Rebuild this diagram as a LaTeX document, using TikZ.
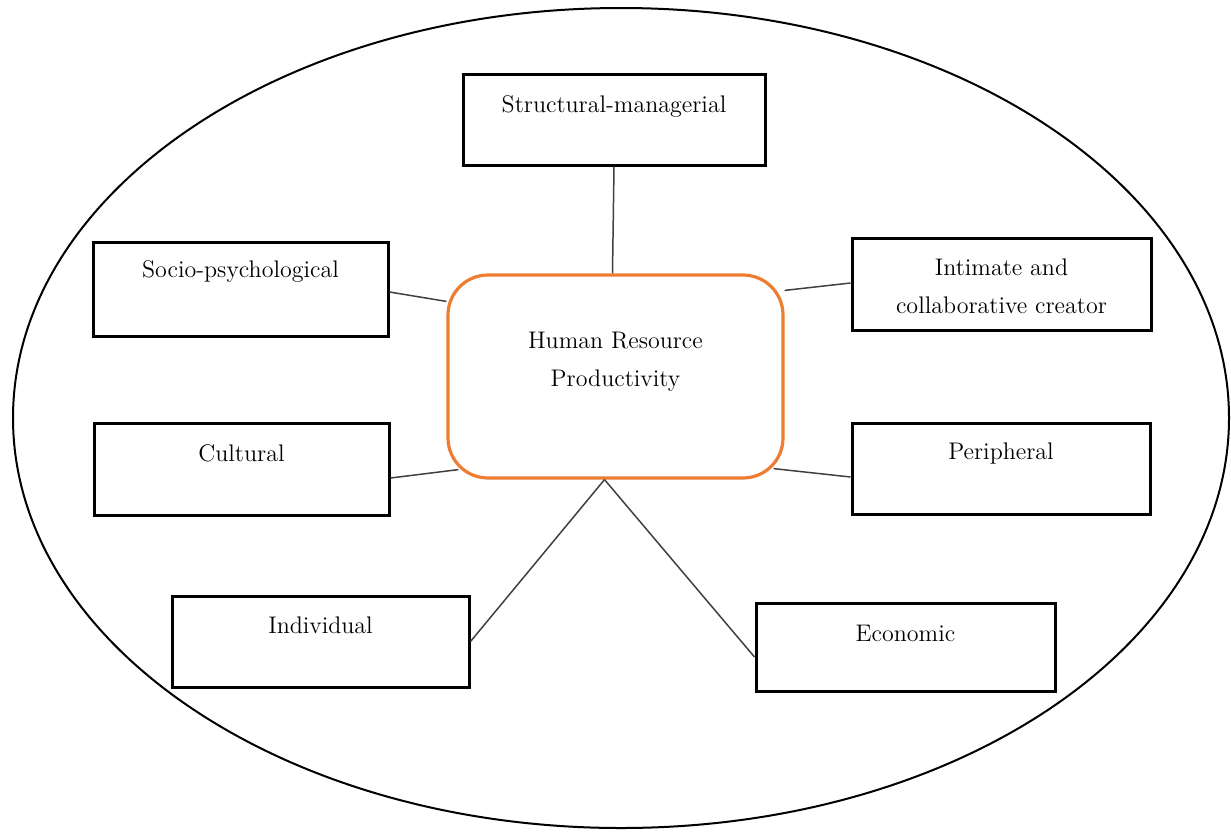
\documentclass[tikz,border=0pt]{standalone}
\usetikzlibrary{shapes.geometric,shadows,calc}
\definecolor{hrorange}{HTML}{ED7D31}
\definecolor{linkgray}{HTML}{404040}
\newcommand{\boxtext}[4]{\parbox[c][#2][t]{#1}{\centering\rule{0pt}{#3}#4\par}}
\tikzset{
  box/.style={draw, line width=1.5pt, fill=white, inner sep=0pt,
    font=\fontsize{12}{19}\selectfont,
    drop shadow={shadow xshift=0.4pt, shadow yshift=-1pt, opacity=1, fill=black}},
  core/.style={draw=hrorange, line width=1.6pt, rounded corners=20pt, fill=white,
    inner sep=0pt, font=\fontsize{12}{19}\selectfont},
  outer/.style={draw, ellipse, line width=1pt, inner sep=0pt},
  link/.style={draw=linkgray, line width=0.75pt}
}
\begin{document}
\begin{tikzpicture}[x=0.5pt, y=-0.5pt]
\useasboundingbox (0,0) rectangle (1231,831);
\node[outer, minimum width=608pt, minimum height=410pt] (frame) at (621,418) {};
\node[box] (str) at (614,119.5) {\boxtext{151pt}{45.5pt}{19pt}{Structural-managerial}};
\node[box] (soc) at (240.5,289) {\boxtext{147.5pt}{47pt}{17.5pt}{Socio-psychological}};
\node[box] (cul) at (241.5,469) {\boxtext{147.5pt}{46pt}{19pt}{Cultural}};
\node[box] (int) at (1001.5,284) {\boxtext{149.5pt}{46pt}{18.5pt}{Intimate and\\collaborative creator}};
\node[box] (per) at (1001,468.5) {\boxtext{149pt}{45.5pt}{18pt}{Peripheral}};
\node[box] (ind) at (320.5,641.5) {\boxtext{148.5pt}{45.5pt}{18.5pt}{Individual}};
\node[box] (eco) at (905.5,647) {\boxtext{149.5pt}{44pt}{19pt}{Economic}};
\node[core] (hrp) at (615.5,376.5) {\boxtext{167.5pt}{101.5pt}{36.5pt}{Human Resource\\Productivity}};
\coordinate (apex) at ($(hrp.south)+(-11,0)$);
\draw[link] (str.south) -- ($(hrp.north)+(-3,0)$);
\draw[link] ($(soc.east)+(0,3)$) -- ($(hrp.north west)+(0,28)$);
\draw[link] ($(int.west)+(0,-1)$) -- ($(hrp.north east)+(0,17)$);
\draw[link] ($(cul.east)+(0,9)$) -- ($(hrp.south west)+(12,-10)$);
\draw[link] ($(per.west)+(0,8.5)$) -- ($(hrp.south east)+(-11,-11)$);
\draw[link] (ind.east) -- (apex);
\draw[link] ($(eco.west)+(0,10)$) -- (apex);
\end{tikzpicture}
\end{document}
